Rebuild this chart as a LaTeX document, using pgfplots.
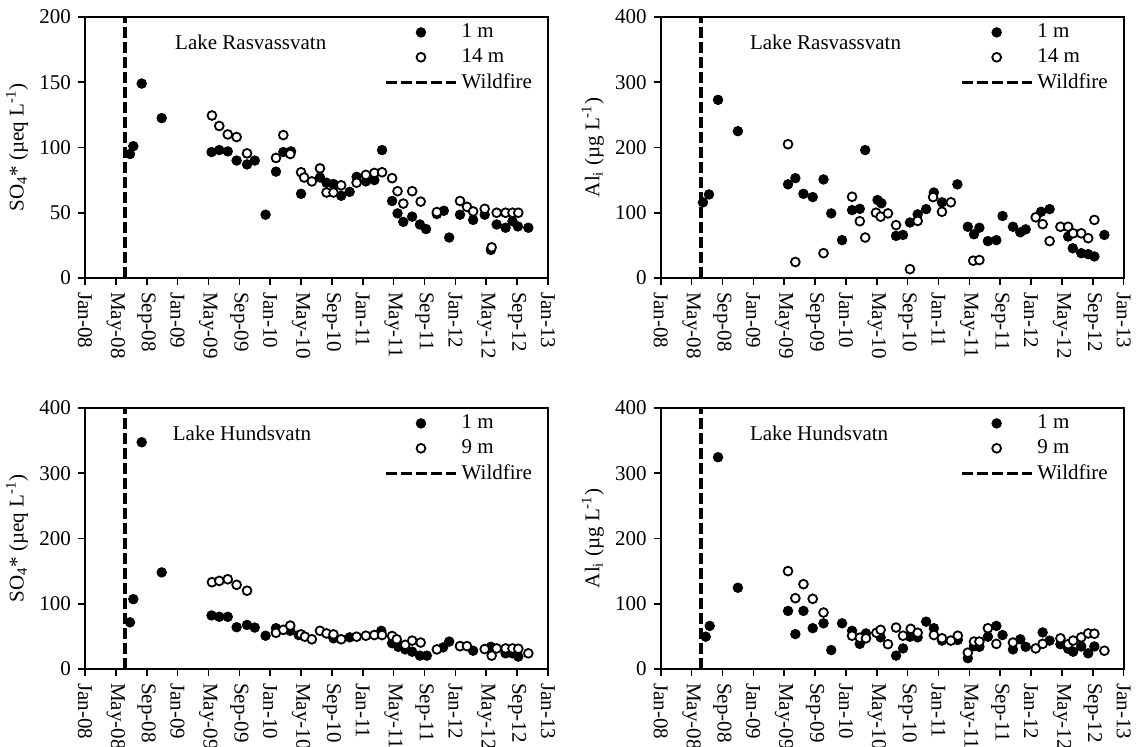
\documentclass[border=0pt]{standalone}
\usepackage{fontspec}
\setmainfont{Liberation Serif}
\usepackage{pgfplots}
\pgfplotsset{compat=1.18}

\newcommand{\lbl}{\fontsize{10.5}{12.5}\selectfont}

\pgfplotsset{
  panel/.style={
    scale only axis, width=231.5pt, height=130.5pt,
    xmin=0, xmax=60, ymin=0,
    xtick={0,4,...,60},
    xticklabels={Jan-08,May-08,Sep-08,Jan-09,May-09,Sep-09,Jan-10,May-10,Sep-10,Jan-11,May-11,Sep-11,Jan-12,May-12,Sep-12,Jan-13},
    xticklabel style={rotate=-90, anchor=west},
    tick align=outside, xtick pos=bottom, ytick pos=left,
    major tick length=3.5pt,
    every tick/.style={black, line width=0.8pt},
    axis line style={line width=0.9pt},
    /pgf/number format/assume math mode=true,
    tick label style={font=\lbl},
    every axis y label/.style={at={(axis description cs:0,0.5)}, xshift=-34pt, rotate=90, anchor=center, font=\lbl},
    legend style={at={(rel axis cs:0.975,0.99)}, anchor=north east, draw=none, fill=none,
      font=\lbl, row sep=0pt, inner sep=0pt, /tikz/every even column/.style={column sep=0pt}},
    legend cell align=left,
  },
  dot/.style={black, only marks, mark=*, mark size=2.4pt, mark options={fill=black, draw=black},
    legend image code/.code={\path[draw=none, fill=none] (0pt,-1pt) rectangle (35pt,1pt);
      \path[draw=black, fill=black, line width=0.4pt] (17.5pt,0pt) circle (2.4pt);}},
  ring/.style={black, only marks, mark=*, mark size=2.2pt, mark options={fill=white, draw=black, line width=0.9pt},
    legend image code/.code={\path[draw=none, fill=none] (0pt,-1pt) rectangle (35pt,1pt);
      \path[draw=black, fill=white, line width=0.9pt] (17.5pt,0pt) circle (2.2pt);}},
  fire/.style={black, line width=1.75pt, dash pattern=on 5.5pt off 2pt, mark=none,
    legend image code/.code={\draw[black, line width=1.75pt, dash pattern=on 5.5pt off 2pt] (0pt,0pt) -- (35pt,0pt);}},
}

\begin{document}
\begin{tikzpicture}
\useasboundingbox (0,0) rectangle (570.5pt,373.5pt);

% SO4, Rasvassvatn
\begin{axis}[panel, at={(42.5pt,234.5pt)}, anchor=south west,
  ymax=200, ytick={0,50,...,200}, ylabel={SO\textsubscript{4}* (µeq L\textsuperscript{-1})}]
\addplot[dot] coordinates {
  (5.83,95) (6.26,101) (7.35,149) (9.94,122.5) (16.4,96.5) (17.4,98) (18.5,97)
  (19.65,90) (21.0,87) (22.0,90) (23.4,48.5) (24.75,81.5) (25.7,96.5) (26.7,97)
  (28.0,64.5) (30.45,77) (31.3,73) (32.2,72) (33.2,63) (34.3,66) (35.2,77.5)
  (36.4,74) (37.5,75) (38.5,98) (39.8,59) (40.5,49.5) (41.25,43) (42.4,47)
  (43.4,41) (44.2,37.5) (45.6,49) (46.5,51.5) (47.2,31) (48.6,48.5) (50.3,44.5)
  (51.8,48.5) (52.6,21.5) (53.35,41) (54.5,38.5) (55.4,43.5) (56.1,39.5) (57.45,38.5)
};
\addlegendentry{1 m}
\addplot[ring] coordinates {
  (16.45,124.5) (17.4,116.5) (18.5,110) (19.65,108) (21.0,95.5) (24.75,92)
  (25.7,109.5) (26.6,95) (28.0,81) (28.4,77) (29.4,74) (30.45,84) (31.3,65.5)
  (32.2,65.5) (33.2,71) (35.2,73) (36.4,79) (37.5,80.5) (38.5,81) (39.8,76.5)
  (40.5,66.5) (41.25,57) (42.4,66.5) (43.5,58.5) (45.6,50.5) (48.6,59) (49.5,54.5)
  (50.3,51) (51.8,53) (52.7,23.5) (53.35,50) (54.5,50) (55.4,50) (56.15,50)
};
\addlegendentry{14 m}
\addplot[fire] coordinates {(5.2,0) (5.2,200)};
\addlegendentry{Wildfire}
\node[anchor=west, inner sep=0pt, font=\lbl] at (rel axis cs:0.194,0.904) {Lake Rasvassvatn};
\end{axis}

% Al_i, Rasvassvatn
\begin{axis}[panel, at={(330.35pt,234.5pt)}, anchor=south west,
  ymax=400, ytick={0,100,...,400}, ylabel={Al\textsubscript{i} (µg L\textsuperscript{-1})}]
\addplot[dot] coordinates {
  (5.48,116) (6.26,128) (7.43,273) (10.0,225) (16.5,143.5) (17.45,153) (18.5,129)
  (19.7,124) (21.1,151) (22.1,99) (23.5,58) (24.8,104) (25.8,106) (26.5,196)
  (28.1,119.5) (28.6,114.5) (30.5,64.5) (31.4,66) (32.3,85) (33.3,97.5) (34.4,105.5)
  (35.4,131) (36.45,116) (38.45,143.5) (39.8,78.5) (40.6,67) (41.3,77) (42.4,56.5)
  (43.5,58) (44.3,95) (45.65,78.5) (46.6,70) (47.3,74.5) (49.3,101.5) (50.4,105.5)
  (52.8,63.5) (53.4,45.5) (54.5,38) (55.4,36.5) (56.2,33) (57.5,66)
};
\addlegendentry{1 m}
\addplot[ring] coordinates {
  (16.5,205) (17.45,24.5) (21.1,38) (24.8,124.5) (25.8,87) (26.5,62) (27.9,100)
  (28.5,94) (29.45,99) (30.5,81) (32.3,13.5) (33.3,87.5) (35.3,124) (36.45,101.5)
  (37.6,116) (40.5,26.5) (41.3,27.5) (48.6,93) (49.5,82.5) (50.4,56.5) (51.8,78.5)
  (52.8,78.5) (53.45,68.5) (54.5,68.5) (55.4,61) (56.2,89)
};
\addlegendentry{14 m}
\addplot[fire] coordinates {(5.2,0) (5.2,400)};
\addlegendentry{Wildfire}
\node[anchor=west, inner sep=0pt, font=\lbl] at (rel axis cs:0.192,0.904) {Lake Rasvassvatn};
\end{axis}

% SO4, Hundsvatn
\begin{axis}[panel, at={(42.5pt,39pt)}, anchor=south west,
  ymax=400, ytick={0,100,...,400}, ylabel={SO\textsubscript{4}* (µeq L\textsuperscript{-1})}]
\addplot[dot] coordinates {
  (5.83,71.5) (6.26,107) (7.35,347.5) (9.94,148) (16.4,82) (17.4,80) (18.5,80)
  (19.65,64) (21.0,67.5) (22.0,63.5) (23.4,51) (24.75,62.5) (26.6,58.5) (27.7,52)
  (32.2,47) (34.3,48.5) (38.4,58.5) (39.8,39.5) (40.6,34) (41.5,30) (42.4,26.5)
  (43.4,20.5) (44.3,20.5) (46.4,33) (47.2,42) (48.6,35) (50.3,28) (52.6,34)
  (54.5,24) (55.4,24) (56.15,19)
};
\addlegendentry{1 m}
\addplot[ring] coordinates {
  (16.45,133) (17.4,135) (18.5,137.5) (19.65,129) (21.0,120) (24.75,55.5) (25.7,60)
  (26.6,66.5) (28.0,53) (28.5,49.5) (29.4,45.5) (30.45,58.5) (31.3,54.5) (32.2,53)
  (33.2,45.5) (35.2,49.5) (36.4,51) (37.5,52) (38.5,52) (39.8,50.5) (40.4,45.5)
  (41.5,37) (42.4,43.5) (43.5,40.5) (45.6,30) (48.6,35) (49.5,35) (51.8,30.5)
  (52.7,20.5) (53.35,31.5) (54.5,31.5) (55.4,31.5) (56.15,31) (57.45,24)
};
\addlegendentry{9 m}
\addplot[fire] coordinates {(5.2,0) (5.2,400)};
\addlegendentry{Wildfire}
\node[anchor=west, inner sep=0pt, font=\lbl] at (rel axis cs:0.189,0.904) {Lake Hundsvatn};
\end{axis}

% Al_i, Hundsvatn
\begin{axis}[panel, at={(330.35pt,39pt)}, anchor=south west,
  ymax=400, ytick={0,100,...,400}, ylabel={Al\textsubscript{i} (µg L\textsuperscript{-1})}]
\addplot[dot] coordinates {
  (5.83,49.5) (6.35,66) (7.43,324.5) (10.0,124.5) (16.5,89) (17.45,53.5) (18.5,89)
  (19.7,62.5) (21.1,70) (22.1,29) (23.5,70) (24.8,58.5) (25.8,38.5) (26.6,54.5)
  (28.5,48.5) (30.5,20.5) (31.4,31.5) (32.3,49.5) (33.3,48.5) (34.4,72.5) (35.4,62.5)
  (36.45,43.5) (38.5,44.5) (39.8,16.5) (40.6,35) (41.3,34) (42.4,49.5) (43.5,66)
  (44.3,52) (45.65,30) (46.6,45.5) (47.3,34) (49.5,56) (50.4,43.5) (51.8,38)
  (52.8,31) (53.45,26.5) (54.5,34.5) (55.4,24) (56.2,34.5)
};
\addlegendentry{1 m}
\addplot[ring] coordinates {
  (16.5,150) (17.45,108.5) (18.5,130) (19.7,107.5) (21.1,86.5) (24.8,51) (25.8,48)
  (26.6,47) (27.95,55.5) (28.5,60) (29.45,38) (30.5,63.5) (31.4,51) (32.4,61.5)
  (33.3,55.5) (35.4,52) (36.45,47) (37.6,43.5) (38.5,51) (39.8,25) (40.6,42)
  (41.3,42) (42.4,62.5) (43.5,38.5) (45.65,40.5) (48.6,31.5) (49.5,38.5) (51.8,47)
  (52.8,38) (53.45,43.5) (54.5,48.5) (55.4,54.5) (56.2,54) (57.5,28)
};
\addlegendentry{9 m}
\addplot[fire] coordinates {(5.2,0) (5.2,400)};
\addlegendentry{Wildfire}
\node[anchor=west, inner sep=0pt, font=\lbl] at (rel axis cs:0.192,0.904) {Lake Hundsvatn};
\end{axis}
\end{tikzpicture}
\end{document}
